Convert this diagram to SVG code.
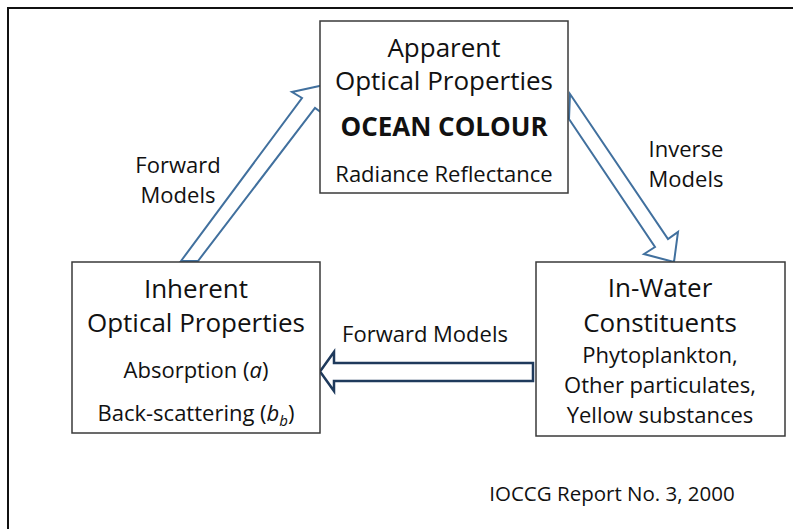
<svg xmlns="http://www.w3.org/2000/svg" width="793" height="529" viewBox="0 0 793 529">
<style>
.box{fill:#fff;stroke:#3a3a3a;stroke-width:1.5}
.t{font-family:"Open Sans","Noto Sans","Liberation Sans",sans-serif;fill:#111;text-anchor:middle}
.big{font-size:26px}
.med{font-size:22px}
.arr{fill:#fff;stroke:#41709e;stroke-width:2;stroke-linejoin:miter}
.arr2{fill:#fff;stroke:#1f3a5c;stroke-width:2.5;stroke-linejoin:miter}
</style>
<rect width="793" height="529" fill="#fff"/>
<path d="M8,529 V8 H793" fill="none" stroke="#111" stroke-width="2"/>
<g id="connectors">
<polygon class="arr" points="181,261 302,98 292,92 324,85 326,116 315,108 198,261"/>
<polygon class="arr" points="570,94 668,239 678,232 674,262 644,254 655,247 569,119"/>
<polygon class="arr2" points="533,363 334,363 334,352 320,371.5 334,391 334,381 533,381"/>
</g>
<g id="apparent">
<rect class="box" x="320" y="21" width="248" height="172"/>
<text class="t big" x="444" y="57">Apparent</text>
<text class="t big" x="444" y="90">Optical Properties</text>
<text class="t big" x="444" y="136" font-weight="bold">OCEAN COLOUR</text>
<text class="t med" x="444" y="182">Radiance Reflectance</text>
</g>
<g id="inherent">
<rect class="box" x="72" y="262" width="248" height="171"/>
<text class="t big" x="196" y="298">Inherent</text>
<text class="t big" x="196" y="332">Optical Properties</text>
<text class="t med" x="196" y="378">Absorption (<tspan font-style="italic">a</tspan>)</text>
<text class="t med" x="196" y="421">Back-scattering (<tspan font-style="italic">b<tspan font-size="15px" dy="5">b</tspan></tspan><tspan dy="-5">)</tspan></text>
</g>
<g id="inwater">
<rect class="box" x="536" y="262" width="249" height="174"/>
<text class="t big" x="660" y="297">In-Water</text>
<text class="t big" x="660" y="332">Constituents</text>
<text class="t med" x="660" y="363">Phytoplankton,</text>
<text class="t med" x="660" y="393">Other particulates,</text>
<text class="t med" x="660" y="423">Yellow substances</text>
</g>
<g id="labels">
<text class="t med" x="178" y="173">Forward</text>
<text class="t med" x="178" y="203">Models</text>
<text class="t med" x="686" y="157">Inverse</text>
<text class="t med" x="686" y="187">Models</text>
<text class="t med" x="425" y="342">Forward Models</text>
<text class="t" x="612" y="501" font-size="20.5px">IOCCG Report No. 3, 2000</text>
</g>
</svg>
